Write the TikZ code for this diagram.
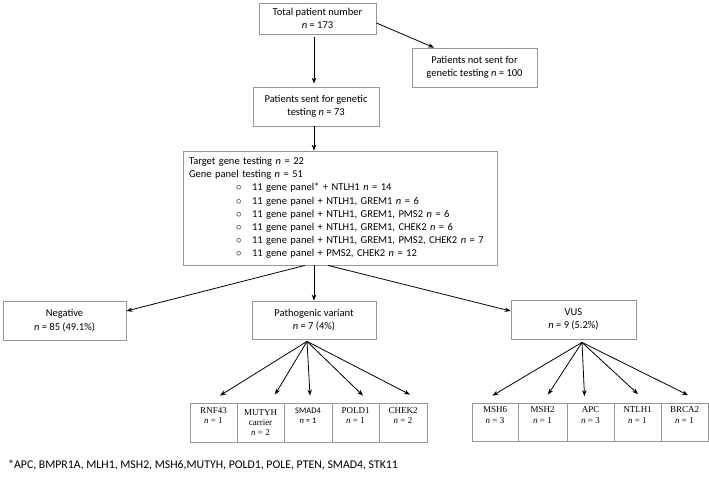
\documentclass[tikz,border=0pt]{standalone}
\usepackage{fontspec}
\setmainfont{Carlito}
\newfontfamily\tnr{Liberation Serif}
\usetikzlibrary{arrows.meta,calc}
\definecolor{bx}{RGB}{150,150,150}
\begin{document}
\begin{tikzpicture}[x=1pt,y=-1pt,
  box/.style={draw=bx,line width=0.8pt,inner sep=0pt,align=center,font=\fontsize{10.5}{13.2}\selectfont},
  sbox/.style={draw=bx,line width=0.8pt,inner sep=0pt,align=center,minimum height=39pt,font=\tnr\fontsize{9}{10}\selectfont},
  vbox/.style={sbox,minimum height=38pt,font=\tnr\fontsize{9}{11}\selectfont},
  arr/.style={draw=black,line width=0.8pt,-{Stealth[length=6pt,width=4.5pt]}}]
\fill[white] (0,0) rectangle (709,480);
\useasboundingbox (0,0) rectangle (709,480);

\node[box,minimum width=117pt,minimum height=31pt] (total) at (317.5,18.5) {Total patient number\\\textit{n} = 173};
\node[box,minimum width=125pt,minimum height=39pt] (notsent) at (474.5,67.5) {Patients not sent for\\genetic testing \textit{n} = 100};
\node[box,minimum width=126pt,minimum height=39pt] (sent) at (316,106.5) {Patients sent for genetic\\testing \textit{n} = 73};
\node[box,minimum width=314pt,minimum height=114pt,text width=306pt,inner xsep=4pt,align=left,font=\fontsize{10.5}{13.2}\selectfont] (big) at (340,208) {%
\hspace*{2pt}Target gene testing \textit{n} = 22\\
\hspace*{2pt}Gene panel testing \textit{n} = 51\\
\hspace*{49pt}\makebox[16pt][l]{$\circ$}11 gene panel* + NTLH1 \textit{n} = 14\\
\hspace*{49pt}\makebox[16pt][l]{$\circ$}11 gene panel + NTLH1, GREM1 \textit{n} = 6\\
\hspace*{49pt}\makebox[16pt][l]{$\circ$}11 gene panel + NTLH1, GREM1, PMS2 \textit{n} = 6\\
\hspace*{49pt}\makebox[16pt][l]{$\circ$}11 gene panel + NTLH1, GREM1, CHEK2 \textit{n} = 6\\
\hspace*{49pt}\makebox[16pt][l]{$\circ$}11 gene panel + NTLH1, GREM1, PMS2, CHEK2 \textit{n} = 7\\
\hspace*{49pt}\makebox[16pt][l]{$\circ$}11 gene panel + PMS2, CHEK2 \textit{n} = 12};

\node[box,minimum width=123pt,minimum height=39pt] (neg) at (64.5,320.5) {Negative\\\textit{n} = 85 (49.1\%)};
\node[box,minimum width=124pt,minimum height=38pt] (path) at (314,320) {Pathogenic variant\\\textit{n} = 7 (4\%)};
\node[box,minimum width=125pt,minimum height=39pt] (vus) at (573.5,319.5) {VUS\\\textit{n} = 9 (5.2\%)};

\node[sbox,minimum width=47pt] (rnf) at (213.5,422.5) {RNF43\\\textit{n} = 1\\\strut};
\node[sbox,minimum width=47pt] (mutyh) at (260.5,422.5) {MUTYH\\carrier\\\textit{n} = 2};
\node[sbox,minimum width=48pt,font=\fontsize{8.5}{10}\selectfont] (smad) at (308,422.5) {SMAD4\\\textit{n} = 1\\\strut};
\node[sbox,minimum width=47pt] (pold) at (355.5,422.5) {POLD1\\\textit{n} = 1\\\strut};
\node[sbox,minimum width=48pt] (chek) at (403,422.5) {CHEK2\\\textit{n} = 2\\\strut};

\node[vbox,minimum width=46pt] (msh6) at (495,422) {MSH6\\\textit{n} = 3\\\strut};
\node[vbox,minimum width=49pt] (msh2) at (542.5,422) {MSH2\\\textit{n} = 1\\\strut};
\node[vbox,minimum width=47pt] (apc) at (590.5,422.5) {APC\\\textit{n} = 3\\\strut};
\node[vbox,minimum width=47pt] (ntlh) at (637.5,422.5) {NTLH1\\\textit{n} = 1\\\strut};
\node[vbox,minimum width=47pt] (brca) at (684.5,422.5) {BRCA2\\\textit{n} = 1\\\strut};

\node[anchor=west,inner sep=0pt,font=\fontsize{11.8}{14}\selectfont] (foot) at (8,465) {*APC, BMPR1A, MLH1, MSH2, MSH6,MUTYH, POLD1, POLE, PTEN, SMAD4, STK11};

% connectors
\draw[arr] ([yshift=-4.5pt]total.east) -- ([xshift=-40.5pt]notsent.north);
\draw[arr] ([xshift=-3.5pt,yshift=-3pt]total.south) -- ([xshift=-2pt,yshift=3pt]sent.north);
\draw[arr] ([xshift=-2pt]sent.south) -- ([xshift=-2pt]sent.south |- big.north);
\draw[arr] ([xshift=-35pt]big.south) -- ([yshift=9.5pt]neg.east);
\draw[arr] (big.south -| path.north) -- (path.north);
\draw[arr] ([xshift=-12pt]big.south) -- ([yshift=8.5pt]vus.west);

\coordinate (pf) at ($(path.south)+(-7,2)$);
\draw[arr] (pf) -- ($(rnf.north)+(6.5,-7)$);
\draw[arr] (pf) -- ($(mutyh.north)+(14.5,-8)$);
\draw[arr] (pf) -- ($(smad.north)+(2,-7)$);
\draw[arr] (pf) -- ($(pold.north)+(7.5,-7)$);
\draw[arr] (pf) -- ($(chek.north)+(7,-8)$);

\coordinate (vf) at ($(vus.south)+(8.5,3)$);
\draw[arr] (vf) -- ($(msh6.north)+(-2.5,-7)$);
\draw[arr] (vf) -- ($(msh2.north)+(5.5,-8)$);
\draw[arr] (vf) -- ($(apc.north)+(-6,-7)$);
\draw[arr] (vf) -- ($(ntlh.north)+(0.5,-9)$);
\draw[arr] (vf) -- ($(brca.north)+(3.5,-8)$);
\end{tikzpicture}
\end{document}
